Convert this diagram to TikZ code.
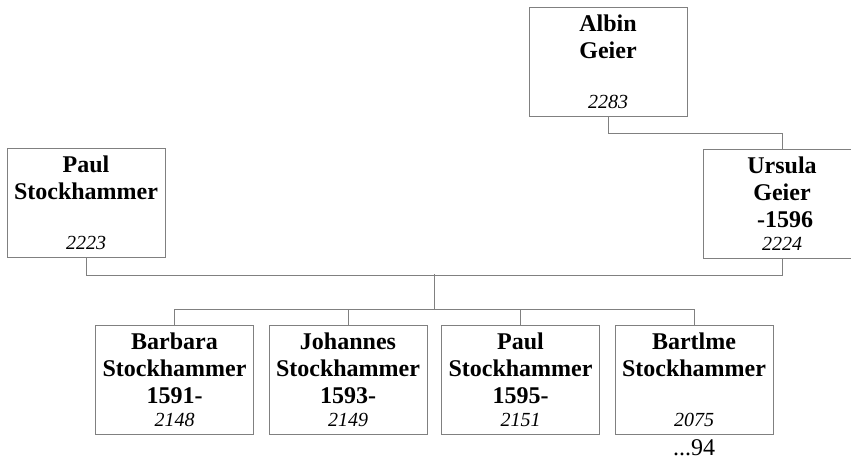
\documentclass[tikz,border=0pt]{standalone}
\usepackage{fontspec}
\setmainfont{Liberation Serif}
\definecolor{boxgray}{RGB}{128,128,128}
\newcommand{\idnum}[1]{{\normalfont\itshape\fontsize{20}{23}\selectfont #1}}
\begin{document}
\begin{tikzpicture}[
  x=1pt, y=-1pt,
  person/.style={rectangle, draw=boxgray, line width=0.9pt, minimum width=158pt, minimum height=109pt,
    inner sep=0pt, align=center, font={\fontsize{24}{27}\selectfont\bfseries}},
  link/.style={draw=boxgray, line width=0.9pt}
]
  \useasboundingbox (0,0) rectangle (851,461);
  \clip (0,0) rectangle (851,461);

  % Eltern und Grosseltern
  \node[person] (albin) at (608,62) {Albin\\Geier\\\mbox{}\\[-4pt]\idnum{2283}};
  \node[person] (paul) at (86,203) {Paul\\Stockhammer\\\mbox{}\\[-4pt]\idnum{2223}};
  \node[person] (ursula) at (782,203.5) {Ursula\\Geier\\\ -1596\\[-4pt]\idnum{2224}};

  % Kinder
  \node[person] (barbara) at (174.5,379.5) {Barbara\\Stockhammer\\1591-\\[-4pt]\idnum{2148}};
  \node[person] (johannes) at (348,379.5) {Johannes\\Stockhammer\\1593-\\[-4pt]\idnum{2149}};
  \node[person] (paulj) at (520.5,379.5) {Paul\\Stockhammer\\1595-\\[-4pt]\idnum{2151}};
  \node[person] (bartlme) at (694,379.5) {Bartlme\\Stockhammer\\\mbox{}\\[-4pt]\idnum{2075}};
  \node[anchor=base, font=\fontsize{24}{27}\selectfont] (more) at (694,455) {...94};

  % Verbindungen
  \draw[link] (albin.south) -- ++(0,16) -| (ursula.north);
  \draw[link] (paul.south) -- ++(0,17) -| (ursula.south);
  \coordinate (fam) at (434,274);
  \coordinate (sib) at (434,309);
  \draw[link] (fam) -- (sib);
  \foreach \k in {barbara, johannes, paulj, bartlme}
    \draw[link] (sib) -| (\k.north);
\end{tikzpicture}
\end{document}
